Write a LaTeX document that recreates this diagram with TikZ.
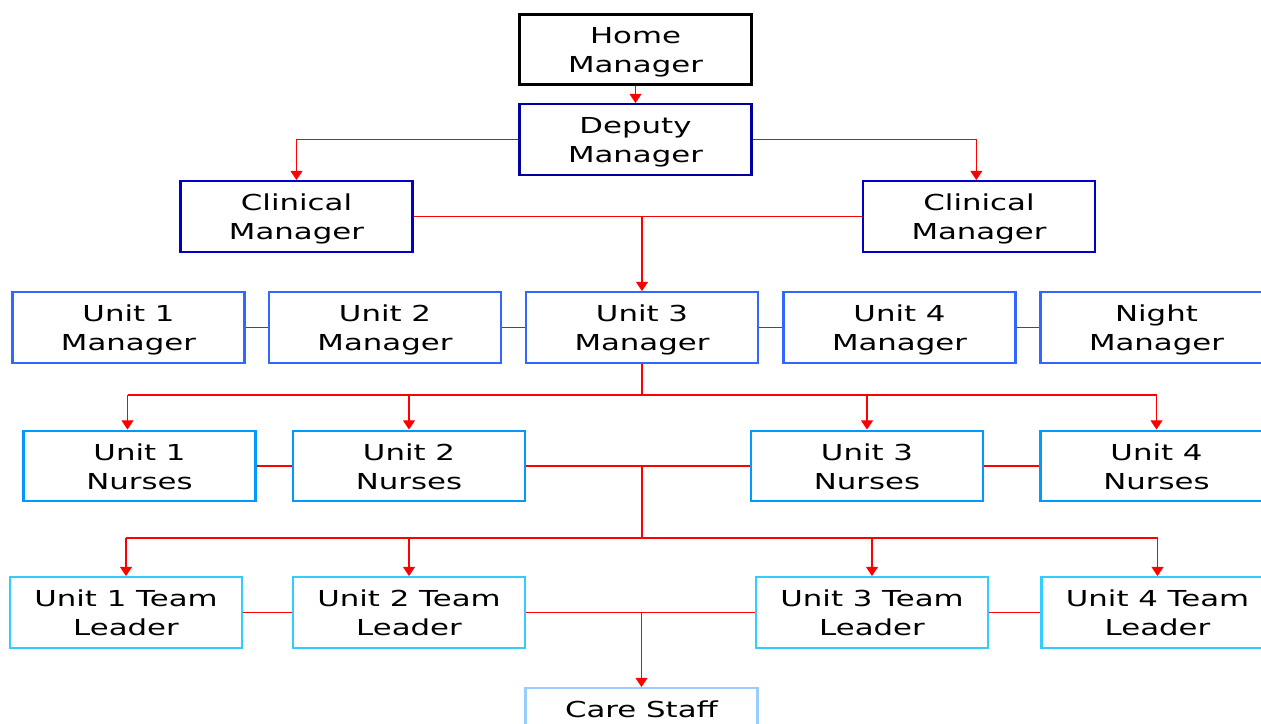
\documentclass[tikz,border=0pt]{standalone}
\usepackage{fontspec}
\setmainfont{DejaVu Sans}[FakeStretch=1.4]
\usetikzlibrary{arrows.meta}

\definecolor{deputyblue}{RGB}{0,0,160}
\definecolor{clinblue}{RGB}{0,0,204}
\definecolor{unitblue}{RGB}{51,102,255}
\definecolor{nurseblue}{RGB}{0,153,255}
\definecolor{leadblue}{RGB}{51,204,255}
\definecolor{careblue}{RGB}{153,204,255}

\begin{document}
\begin{tikzpicture}[x=0.75pt,y=0.75pt,yscale=-1,xscale=1,
  box/.style={draw, line width=1.6pt, align=center, inner sep=0pt,
    minimum width=174pt, minimum height=53pt,
    text height=34.5pt, text depth=0pt,
    font=\fontsize{16.5}{21.75}\selectfont},
  link/.style={red, line width=0.9pt},
  conn/.style={link, -{Triangle[width=9pt,length=7pt]}}]
%set diagram frame: 1261 x 724
\clip (0,0) rectangle (1261,724);

% Top of the chart
\node[box, line width=2.2pt] (home) at (635.5,49.5) {Home\\Manager};
\node[box, draw=deputyblue] (deputy) at (635.5,139.5) {Deputy\\Manager};
\node[box, draw=clinblue] (clinL) at (296.5,216.5) {Clinical\\Manager};
\node[box, draw=clinblue] (clinR) at (979,216.5) {Clinical\\Manager};

% Unit managers
\node[box, draw=unitblue] (um1) at (128.5,327.5) {Unit 1\\Manager};
\node[box, draw=unitblue] (um2) at (385,327.5) {Unit 2\\Manager};
\node[box, draw=unitblue] (um3) at (642,327.5) {Unit 3\\Manager};
\node[box, draw=unitblue] (um4) at (899.5,327.5) {Unit 4\\Manager};
\node[box, draw=unitblue] (night) at (1156.5,327.5) {Night\\Manager};

% Nurses
\node[box, draw=nurseblue] (nu1) at (139.5,466) {Unit 1\\Nurses};
\node[box, draw=nurseblue] (nu2) at (409,466) {Unit 2\\Nurses};
\node[box, draw=nurseblue] (nu3) at (867,466) {Unit 3\\Nurses};
\node[box, draw=nurseblue] (nu4) at (1156.5,466) {Unit 4\\Nurses};

% Team leaders
\node[box, draw=leadblue] (tl1) at (126,612.5) {Unit 1 Team\\Leader};
\node[box, draw=leadblue] (tl2) at (409,612.5) {Unit 2 Team\\Leader};
\node[box, draw=leadblue] (tl3) at (872,612.5) {Unit 3 Team\\Leader};
\node[box, draw=leadblue] (tl4) at (1157.5,612.5) {Unit 4 Team\\Leader};

\node[box, draw=careblue] (care) at (641.5,723.5) {Care Staff\\\mbox{}};

\coordinate (split1) at (642,395);
\coordinate (split2) at (642,538);
\coordinate (nu1in) at ([xshift=-9pt]nu1.north);

% Connectors
\draw[conn] (home) -- (deputy);
\draw[conn] (deputy.west) -| (clinL.north);
\draw[conn] (deputy.east) -| ([xshift=-2pt]clinR.north);
\draw[link] (clinL.east) -- (clinR.west);
\draw[conn] (clinL.east -| um3.north) -- (um3.north);

\foreach \a/\b in {um1/um2, um2/um3, um3/um4, um4/night, nu1/nu2, nu2/nu3, nu3/nu4, tl1/tl2, tl2/tl3, tl3/tl4}
  \draw[link] (\a) -- (\b);

\draw[link] (um3) -- (split1);
\draw[link] (nu1in |- split1) -- (nu4 |- split1);
\draw[conn] (nu1in |- split1) -- (nu1in);
\foreach \n in {nu2, nu3, nu4}
  \draw[conn] (\n |- split1) -- (\n.north);

\draw[link] (split2 |- nu2.east) -- (split2);
\draw[link] (tl1 |- split2) -- (tl4 |- split2);
\foreach \n in {tl1, tl2, tl3, tl4}
  \draw[conn] (\n |- split2) -- (\n.north);

\draw[conn] (care |- tl2) -- (care.north);

\end{tikzpicture}
\end{document}
